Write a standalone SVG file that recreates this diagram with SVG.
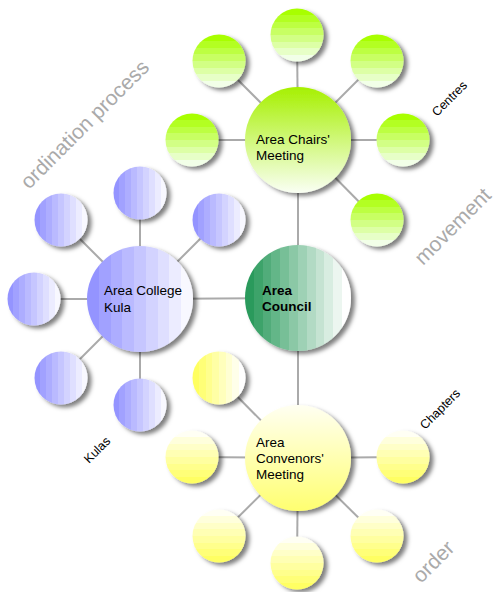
<svg xmlns="http://www.w3.org/2000/svg" width="499" height="592" viewBox="0 0 499 592">
<style>
.lbl{font-family:"Liberation Sans",Arial,Helvetica,sans-serif;font-size:13.5px;fill:#000}
.b{font-weight:bold}
.big{font-family:"Liberation Sans",Arial,Helvetica,sans-serif;font-size:21px;fill:#aaaaaa}
.sm{font-family:"Liberation Sans",Arial,Helvetica,sans-serif;font-size:12.5px;fill:#000}
.con line{stroke:#aaaaaa;stroke-width:2}
.node circle{filter:url(#sh)}
</style>
<defs>
<filter id="sh" x="-30%" y="-30%" width="170%" height="170%">
<feDropShadow dx="4" dy="3" stdDeviation="2.2" flood-color="#000" flood-opacity="0.5"/>
</filter>
<linearGradient id="gS" x1="0" y1="0" x2="0" y2="1">
<stop offset="0" stop-color="#a8ff00"/><stop offset="0.125" stop-color="#a8ff00"/>
<stop offset="0.125" stop-color="#b3ff21"/><stop offset="0.25" stop-color="#b3ff21"/>
<stop offset="0.25" stop-color="#bdff42"/><stop offset="0.375" stop-color="#bdff42"/>
<stop offset="0.375" stop-color="#c8ff63"/><stop offset="0.5" stop-color="#c8ff63"/>
<stop offset="0.5" stop-color="#d2ff85"/><stop offset="0.625" stop-color="#d2ff85"/>
<stop offset="0.625" stop-color="#ddffa6"/><stop offset="0.75" stop-color="#ddffa6"/>
<stop offset="0.75" stop-color="#e7ffc7"/><stop offset="0.875" stop-color="#e7ffc7"/>
<stop offset="0.875" stop-color="#f2ffe8"/><stop offset="1" stop-color="#f2ffe8"/>
</linearGradient>
<linearGradient id="gH" x1="0" y1="0" x2="0" y2="1">
<stop offset="0" stop-color="#a6f000"/><stop offset="1" stop-color="#fafff4"/>
</linearGradient>
<linearGradient id="bS" x1="0" y1="0" x2="1" y2="0">
<stop offset="0" stop-color="#9494ff"/><stop offset="0.111" stop-color="#9494ff"/>
<stop offset="0.111" stop-color="#a1a1ff"/><stop offset="0.222" stop-color="#a1a1ff"/>
<stop offset="0.222" stop-color="#adadff"/><stop offset="0.333" stop-color="#adadff"/>
<stop offset="0.333" stop-color="#babaff"/><stop offset="0.444" stop-color="#babaff"/>
<stop offset="0.444" stop-color="#c6c6ff"/><stop offset="0.556" stop-color="#c6c6ff"/>
<stop offset="0.556" stop-color="#d3d3ff"/><stop offset="0.667" stop-color="#d3d3ff"/>
<stop offset="0.667" stop-color="#dfdfff"/><stop offset="0.778" stop-color="#dfdfff"/>
<stop offset="0.778" stop-color="#ececff"/><stop offset="0.889" stop-color="#ececff"/>
<stop offset="0.889" stop-color="#f8f8ff"/><stop offset="1" stop-color="#f8f8ff"/>
</linearGradient>
<linearGradient id="cG" x1="0" y1="0" x2="1" y2="0">
<stop offset="0" stop-color="#2a9a5c"/><stop offset="0.083" stop-color="#2a9a5c"/>
<stop offset="0.083" stop-color="#3da36b"/><stop offset="0.167" stop-color="#3da36b"/>
<stop offset="0.167" stop-color="#51ac7a"/><stop offset="0.25" stop-color="#51ac7a"/>
<stop offset="0.25" stop-color="#64b688"/><stop offset="0.333" stop-color="#64b688"/>
<stop offset="0.333" stop-color="#77bf97"/><stop offset="0.417" stop-color="#77bf97"/>
<stop offset="0.417" stop-color="#8bc8a6"/><stop offset="0.5" stop-color="#8bc8a6"/>
<stop offset="0.5" stop-color="#9ed1b5"/><stop offset="0.583" stop-color="#9ed1b5"/>
<stop offset="0.583" stop-color="#b2dac4"/><stop offset="0.667" stop-color="#b2dac4"/>
<stop offset="0.667" stop-color="#c5e3d2"/><stop offset="0.75" stop-color="#c5e3d2"/>
<stop offset="0.75" stop-color="#d8ede1"/><stop offset="0.833" stop-color="#d8ede1"/>
<stop offset="0.833" stop-color="#ecf6f0"/><stop offset="0.917" stop-color="#ecf6f0"/>
<stop offset="0.917" stop-color="#ffffff"/><stop offset="1" stop-color="#ffffff"/>
</linearGradient>
<linearGradient id="yS" x1="0" y1="0" x2="0" y2="1">
<stop offset="0" stop-color="#fffff4"/><stop offset="0.125" stop-color="#fffff4"/>
<stop offset="0.125" stop-color="#ffffdc"/><stop offset="0.25" stop-color="#ffffdc"/>
<stop offset="0.25" stop-color="#ffffc8"/><stop offset="0.375" stop-color="#ffffc8"/>
<stop offset="0.375" stop-color="#ffffb4"/><stop offset="0.5" stop-color="#ffffb4"/>
<stop offset="0.5" stop-color="#ffffa0"/><stop offset="0.625" stop-color="#ffffa0"/>
<stop offset="0.625" stop-color="#ffff8c"/><stop offset="0.75" stop-color="#ffff8c"/>
<stop offset="0.75" stop-color="#ffff78"/><stop offset="0.875" stop-color="#ffff78"/>
<stop offset="0.875" stop-color="#ffff64"/><stop offset="1" stop-color="#ffff64"/>
</linearGradient>
<linearGradient id="yH" x1="0" y1="0" x2="0" y2="1">
<stop offset="0" stop-color="#fffff2"/><stop offset="1" stop-color="#ffff70"/>
</linearGradient>
<linearGradient id="yX" x1="0" y1="0" x2="1" y2="0">
<stop offset="0" stop-color="#ffff60"/><stop offset="0.125" stop-color="#ffff60"/>
<stop offset="0.125" stop-color="#ffff77"/><stop offset="0.25" stop-color="#ffff77"/>
<stop offset="0.25" stop-color="#ffff8e"/><stop offset="0.375" stop-color="#ffff8e"/>
<stop offset="0.375" stop-color="#ffffa5"/><stop offset="0.5" stop-color="#ffffa5"/>
<stop offset="0.5" stop-color="#ffffbc"/><stop offset="0.625" stop-color="#ffffbc"/>
<stop offset="0.625" stop-color="#ffffd3"/><stop offset="0.75" stop-color="#ffffd3"/>
<stop offset="0.75" stop-color="#ffffea"/><stop offset="0.875" stop-color="#ffffea"/>
<stop offset="0.875" stop-color="#ffffff"/><stop offset="1" stop-color="#ffffff"/>
</linearGradient>
</defs>
<rect width="499" height="592" fill="#ffffff"/>
<g id="labels">
<text class="big" transform="translate(29,190) rotate(-45)">ordination process</text>
<text class="big" transform="translate(423,266) rotate(-45)">movement</text>
<text class="big" transform="translate(421,584) rotate(-45)">order</text>
<text class="sm" transform="translate(437,117) rotate(-45)">Centres</text>
<text class="sm" transform="translate(89,464) rotate(-45)">Kulas</text>
<text class="sm" transform="translate(425,430) rotate(-45)">Chapters</text>
</g>
<g id="connectors" class="con">
<line x1="298" y1="140" x2="297" y2="35"/>
<line x1="298" y1="140" x2="219" y2="61"/>
<line x1="298" y1="140" x2="377" y2="61"/>
<line x1="298" y1="140" x2="192" y2="140"/>
<line x1="298" y1="140" x2="403" y2="140"/>
<line x1="298" y1="140" x2="377" y2="220"/>
<line x1="298" y1="298" x2="298" y2="140"/>
<line x1="298" y1="298" x2="140" y2="299"/>
<line x1="298" y1="298" x2="298" y2="458"/>
<line x1="140" y1="299" x2="140" y2="193"/>
<line x1="140" y1="299" x2="61" y2="220"/>
<line x1="140" y1="299" x2="219" y2="220"/>
<line x1="140" y1="299" x2="34" y2="299"/>
<line x1="140" y1="299" x2="61" y2="378"/>
<line x1="140" y1="299" x2="140" y2="405"/>
<line x1="298" y1="458" x2="219" y2="378"/>
<line x1="298" y1="458" x2="192" y2="457"/>
<line x1="298" y1="458" x2="403" y2="457"/>
<line x1="298" y1="458" x2="219" y2="536"/>
<line x1="298" y1="458" x2="297" y2="563"/>
<line x1="298" y1="458" x2="377" y2="536"/>
</g>
<g id="centres" class="node">
<circle cx="297" cy="35" r="26.5" fill="url(#gS)"/>
<circle cx="219" cy="61" r="26.5" fill="url(#gS)"/>
<circle cx="377" cy="61" r="26.5" fill="url(#gS)"/>
<circle cx="192" cy="140" r="26.5" fill="url(#gS)"/>
<circle cx="403" cy="140" r="26.5" fill="url(#gS)"/>
<circle cx="377" cy="220" r="26.5" fill="url(#gS)"/>
</g>
<g id="kulas" class="node">
<circle cx="140" cy="193" r="26.5" fill="url(#bS)"/>
<circle cx="61" cy="220" r="26.5" fill="url(#bS)"/>
<circle cx="219" cy="220" r="26.5" fill="url(#bS)"/>
<circle cx="34" cy="299" r="26.5" fill="url(#bS)"/>
<circle cx="61" cy="378" r="26.5" fill="url(#bS)"/>
<circle cx="140" cy="405" r="26.5" fill="url(#bS)"/>
</g>
<g id="chapters" class="node">
<circle cx="219" cy="378" r="26.5" fill="url(#yX)"/>
<circle cx="192" cy="457" r="26.5" fill="url(#yS)"/>
<circle cx="403" cy="457" r="26.5" fill="url(#yS)"/>
<circle cx="219" cy="536" r="26.5" fill="url(#yS)"/>
<circle cx="297" cy="563" r="26.5" fill="url(#yS)"/>
<circle cx="377" cy="536" r="26.5" fill="url(#yS)"/>
</g>
<g id="area-chairs" class="node">
<circle cx="298" cy="140" r="53" fill="url(#gH)"/>
<text class="lbl" x="256" y="144">Area Chairs'</text>
<text class="lbl" x="256" y="160">Meeting</text>
</g>
<g id="area-council" class="node">
<circle cx="298" cy="298" r="53" fill="url(#cG)"/>
<text class="lbl b" x="262" y="295">Area</text>
<text class="lbl b" x="262" y="311">Council</text>
</g>
<g id="area-college" class="node">
<circle cx="140" cy="299" r="53" fill="url(#bS)"/>
<text class="lbl" x="104" y="295">Area College</text>
<text class="lbl" x="104" y="312">Kula</text>
</g>
<g id="area-convenors" class="node">
<circle cx="298" cy="458" r="53" fill="url(#yH)"/>
<text class="lbl" x="256" y="447">Area</text>
<text class="lbl" x="256" y="463">Convenors'</text>
<text class="lbl" x="256" y="479">Meeting</text>
</g>
</svg>
